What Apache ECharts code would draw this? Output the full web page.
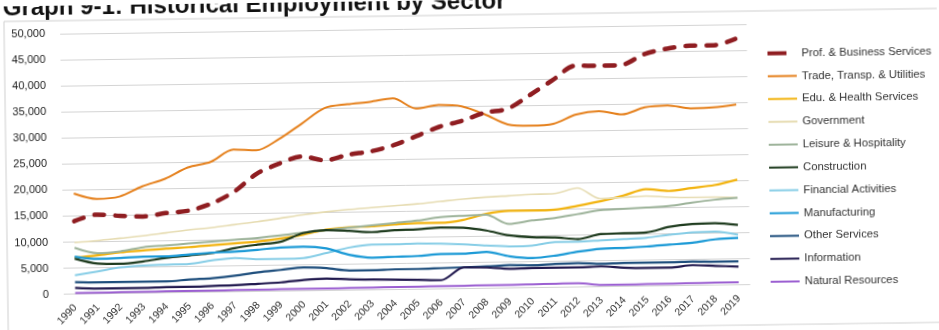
<!DOCTYPE html>
<html><head><meta charset="utf-8">
<script src="https://cdn.jsdelivr.net/npm/echarts@6/dist/echarts.min.js"></script>
<style>
html,body{margin:0;padding:0;background:#fff;overflow:hidden;}
#chart{width:939px;height:330px;background:#fff;transform:rotate(-0.8deg);transform-origin:469.5px 165px;}
</style></head><body><div id="chart"></div>
<script>
const years = ['1990','1991','1992','1993','1994','1995','1996','1997','1998','1999','2000','2001','2002','2003','2004','2005','2006','2007','2008','2009','2010','2011','2012','2013','2014','2015','2016','2017','2018','2019'];
const yTicks = { min: 0, max: 50000, interval: 5000 };

const profBusiness = [14000,15200,14900,14700,15300,15700,17000,19200,22600,24500,25800,25000,26000,26600,27700,29400,31100,32200,33700,34400,37000,39800,42500,42400,42500,44500,45500,46000,46000,47200];
const tradeTransp  = [19300,18200,18600,20500,21900,24000,25000,27300,27100,29200,32100,35000,35700,36100,36700,34700,35300,35000,33400,31400,31100,31400,33100,33700,33000,34300,34600,34000,34100,34600];
const eduHealth    = [7000,7400,7900,8200,8500,8700,9000,9300,9600,10100,10800,11700,12100,12200,12500,12700,12700,13200,14300,14800,14800,14900,15600,16400,17400,18600,18200,18700,19200,20200];
const government   = [9900,10200,10600,11000,11500,12000,12400,12900,13400,14000,14600,15100,15500,15800,16100,16400,16800,17200,17500,17700,17900,18000,19000,16900,17100,17300,17000,16900,16900,16700];
const leisure      = [8900,7800,8100,8800,9100,9400,9700,10000,10300,10700,11200,11600,12000,12400,12800,13200,13800,14000,14100,12300,12900,13300,14000,14700,14900,15100,15300,15900,16400,16700];
const construction = [6800,5800,5700,6100,6700,7100,7500,8400,9000,9500,11100,11600,11400,11100,11400,11500,11800,11700,11100,10100,9700,9600,9200,10100,10200,10300,11300,11800,11900,11500];
const financial    = [3600,4300,5000,5300,5400,5500,6100,6500,6200,6200,6300,7200,8200,8700,8700,8800,8700,8500,8200,8000,8100,8700,8700,8900,9100,9300,9800,10200,10300,9600];
const manufacturing= [7200,6700,6800,7000,7000,7300,7600,7700,8000,8400,8500,8100,6800,6200,6300,6400,6700,6700,7000,6100,5700,6100,6800,7300,7400,7600,7900,8200,8800,9000];
const otherServices= [2300,2200,2200,2200,2200,2500,2700,3100,3700,4100,4500,4300,3800,3800,3900,3900,4000,4100,4200,4400,4300,4500,4600,4400,4500,4500,4500,4600,4500,4500];
const information  = [1200,1000,1000,1000,1100,1100,1200,1300,1500,1700,2100,2300,2100,2000,1900,1800,1700,4100,4000,3700,3800,3800,3800,3900,3600,3500,3500,3900,3700,3500];
const naturalRes   = [200,200,250,250,300,300,300,350,350,400,400,400,450,450,500,500,550,550,600,600,650,700,750,350,350,400,400,450,500,500];

const names = ['Prof. & Business Services','Trade, Transp. & Utilities','Edu. & Health Services','Government','Leisure & Hospitality','Construction','Financial Activities','Manufacturing','Other Services','Information','Natural Resources'];
const values = [profBusiness,tradeTransp,eduHealth,government,leisure,construction,financial,manufacturing,otherServices,information,naturalRes];
const colors = ['#8f1d21','#e5801c','#f2b30f','#e6dcb2','#9db39a','#1e3b1e','#86cde6','#1c9ad6','#1f4f7d','#221a4f','#9b5fd1'];
const widths = [4.5,2,2.2,1.6,2,2.2,2,2.2,2.2,2.2,2];

const FONT = '"Liberation Sans", Arial, sans-serif';
const fmt = v => String(v).replace(/\B(?=(\d{3})+(?!\d))/g, ',');

const series = names.map((n, i) => ({
  name: n, type: 'line', data: values[i], smooth: 0.3, symbol: 'none',
  z: i === 0 ? 5 : 3,
  color: colors[i],
  lineStyle: i === 0
    ? { color: colors[i], width: widths[i], type: [10, 11], cap: 'round' }
    : { color: colors[i], width: widths[i] }
}));

const chart = echarts.init(document.getElementById('chart'));
chart.setOption({
  animation: false,
  backgroundColor: '#fff',
  title: {
    text: 'Graph 9-1: Historical Employment by Sector',
    left: 0, top: -15,
    textStyle: { fontFamily: FONT, fontSize: 24, fontWeight: 'bold', color: '#111' }
  },
  graphic: [{
    type: 'rect', silent: true, z: -1,
    shape: { x: 6, y: 15, width: 1000, height: 314 },
    style: { fill: 'none', stroke: '#cfcfcf', lineWidth: 1 }
  }],
  grid: { left: 62, right: 190.5, top: 28, bottom: 41.4 },
  legend: {
    orient: 'vertical', left: 762, top: 46.6,
    itemWidth: 29, itemHeight: 12, itemGap: 10.84,
    itemStyle: { opacity: 0 },
    textStyle: { fontFamily: FONT, fontSize: 11.3, color: '#333', lineHeight: 12 },
    data: names.map((n, i) => i === 0
      ? { name: n, lineStyle: { type: [19, 30], cap: 'butt', width: 4 } }
      : { name: n })
  },
  xAxis: {
    type: 'category', data: years, boundaryGap: true,
    axisLine: { show: false }, axisTick: { show: false },
    axisLabel: { rotate: 45, interval: 0, margin: 12, fontFamily: FONT, fontSize: 10.5, color: '#333' }
  },
  yAxis: {
    type: 'value', min: yTicks.min, max: yTicks.max, interval: yTicks.interval,
    axisLine: { show: false }, axisTick: { show: false },
    splitLine: { lineStyle: { color: '#d4d4d4', width: 1 } },
    axisLabel: { formatter: fmt, margin: 15, fontFamily: FONT, fontSize: 11, color: '#222' }
  },
  series: series
});
</script></body></html>
